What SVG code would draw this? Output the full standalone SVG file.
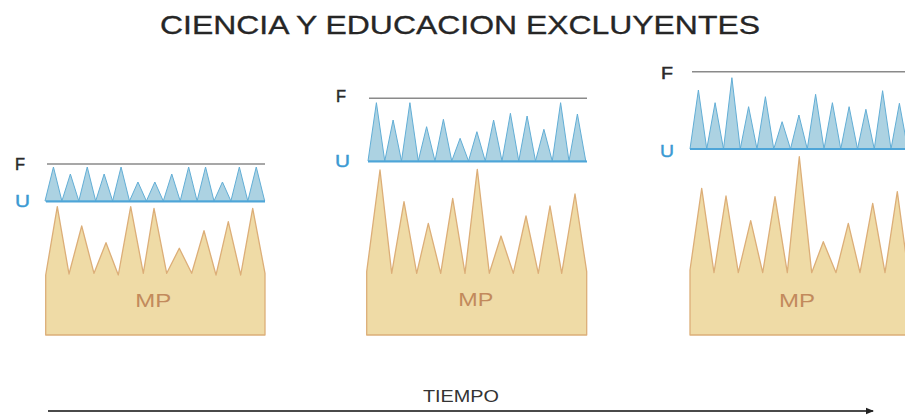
<svg xmlns="http://www.w3.org/2000/svg" width="905" height="417" viewBox="0 0 905 417">
<defs>
<style>
.title{font-family:"Liberation Sans",Arial,sans-serif;font-size:25px;fill:#262626;stroke:#262626;stroke-width:0.3}
.lblF{font-family:"Liberation Sans",Arial,sans-serif;font-size:17px;fill:#2a2a2a;stroke:#2a2a2a;stroke-width:0.5}
.lblU{font-family:"Liberation Sans",Arial,sans-serif;font-size:17px;fill:#3a9ad3;stroke:#3a9ad3;stroke-width:0.4}
.mp{fill:#efdba6;stroke:#dcae78;stroke-width:1.3;stroke-linejoin:round}
.mptxt{font-family:"Liberation Sans",Arial,sans-serif;font-size:19px;fill:#c28a5c;text-anchor:middle}
.tri{fill:#acd2e2;stroke:#62aed6;stroke-width:1;stroke-linejoin:round}
.uline{stroke:#4ea5d8;stroke-width:2.2}
.fline{stroke:#8a8a8a;stroke-width:1.6}
.axis{stroke:#4a4a4a;stroke-width:2}
.tiempo{font-family:"Liberation Sans",Arial,sans-serif;font-size:17px;fill:#333;text-anchor:middle}
</style>
<marker id="ah" markerWidth="8" markerHeight="8" refX="7" refY="4" orient="auto" markerUnits="userSpaceOnUse">
<path d="M0,0.8 L8,4 L0,7.2 Z" fill="#222"/>
</marker>
</defs>
<rect width="905" height="417" fill="#ffffff"/>
<text class="title" x="160" y="34" textLength="600" lengthAdjust="spacingAndGlyphs">CIENCIA Y EDUCACION EXCLUYENTES</text>

<g id="panel1">
<path class="mp" d="M45.7,275 L57.3,206.7 L69,274 L81.7,226 L94,273.3 L106,242.7 L118.3,275 L130.7,206.7 L143.3,273.3 L154,208.3 L166.7,273.3 L179.3,248.3 L191.7,273.3 L204,230.7 L216,275 L228.3,221.7 L240.7,275 L252.7,208.3 L265,273.3 L265,335 L45.7,335 Z"/>
<text class="mptxt" x="153.3" y="306.5" textLength="36" lengthAdjust="spacingAndGlyphs">MP</text>
<path class="tri" d="M45,201 L53.45,167 L61.9,201 L70.35,174 L78.8,201 L87.25,167 L95.7,201 L104.15,174 L112.6,201 L121.05,167 L129.5,201 L137.95,182 L146.4,201 L154.85,182 L163.3,201 L171.75,174 L180.2,201 L188.65,167 L197.1,201 L205.55,167 L214,201 L222.45,182 L230.9,201 L239.35,167 L247.8,201 L256.25,167 L264.7,201 Z"/>
<line class="uline" x1="46" y1="201.5" x2="265" y2="201.5"/>
<line class="fline" x1="47" y1="164" x2="265" y2="164"/>
<text class="lblF" x="15" y="169.5" textLength="10" lengthAdjust="spacingAndGlyphs">F</text>
<text class="lblU" x="15" y="207" textLength="15" lengthAdjust="spacingAndGlyphs">U</text>
</g>

<g id="panel2">
<path class="mp" d="M366.7,271.7 L380,170 L391.7,273.3 L404,201.7 L416.7,273.3 L428.3,223.3 L440.7,273.3 L452.7,198.3 L465,273.3 L477.3,169.3 L489.3,273.3 L501,236 L513.3,273.3 L526,216 L538.3,273.3 L550,206 L561.7,273.3 L575,194 L586.7,271.7 L586.7,335 L366.7,335 Z"/>
<text class="mptxt" x="475.8" y="306" textLength="35" lengthAdjust="spacingAndGlyphs">MP</text>
<path class="tri" d="M368,161 L376.4,102.7 L384.75,161 L393.1,120 L401.5,161 L409.9,102.7 L418.25,161 L426.6,126.7 L435,161 L443.4,119.3 L451.75,161 L460.1,138.3 L468.5,161 L476.9,131.7 L485.25,161 L493.6,120 L502,161 L510.4,113.3 L518.75,161 L527.1,116 L535.5,161 L543.9,129.3 L552.25,161 L560.6,102.7 L569,161 L577.4,114 L585.75,161 Z"/>
<line class="uline" x1="368" y1="161.5" x2="587" y2="161.5"/>
<line class="fline" x1="369" y1="98.3" x2="587" y2="98.3"/>
<text class="lblF" x="336" y="102" textLength="10" lengthAdjust="spacingAndGlyphs">F</text>
<text class="lblU" x="335" y="167" textLength="15" lengthAdjust="spacingAndGlyphs">U</text>
</g>

<g id="panel3">
<path class="mp" d="M690,270 L701.7,188.3 L714,272.7 L726,196 L738.3,272.7 L750.7,220.7 L762.7,272.7 L775,196.7 L787.3,272.7 L799.3,156.7 L811.7,272.7 L823.3,241.7 L836,272.7 L848.3,223.3 L860,272.7 L872.7,203.3 L885,272.7 L897.3,191.7 L908.3,272.7 L920,200 L920,335 L690,335 Z"/>
<text class="mptxt" x="797" y="306.5" textLength="36" lengthAdjust="spacingAndGlyphs">MP</text>
<path class="tri" d="M690,149 L698.4,90 L706.75,149 L715.1,102.7 L723.5,149 L731.9,77.7 L740.25,149 L748.6,106.7 L757,149 L765.4,96.7 L773.75,149 L782.1,121.7 L790.5,149 L798.9,115 L807.25,149 L815.6,94.3 L824,149 L832.4,102.7 L840.75,149 L849.1,106.7 L857.5,149 L865.9,109.3 L874.25,149 L882.6,90.7 L891,149 L899.4,103.3 L907.75,149 Z"/>
<line class="uline" x1="690" y1="149" x2="910" y2="149"/>
<line class="fline" x1="692" y1="71.7" x2="910" y2="71.7"/>
<text class="lblF" x="661" y="78.5" textLength="12" lengthAdjust="spacingAndGlyphs">F</text>
<text class="lblU" x="660" y="156.5" textLength="14" lengthAdjust="spacingAndGlyphs">U</text>
</g>

<g id="connectors">
<line class="axis" x1="48" y1="411" x2="873" y2="411" marker-end="url(#ah)"/>
</g>
<text class="tiempo" x="461" y="401.5" textLength="76" lengthAdjust="spacingAndGlyphs">TIEMPO</text>
</svg>
